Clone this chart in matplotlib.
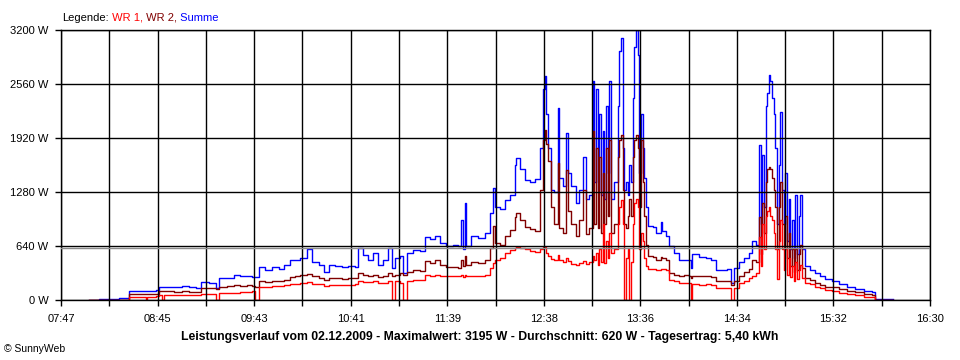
import matplotlib
matplotlib.use('Agg')
import matplotlib.pyplot as plt
import numpy as np
from matplotlib.ticker import FixedLocator, FuncFormatter

plt.rcParams['font.family'] = ['Liberation Sans', 'DejaVu Sans']

# Messzeitpunkte (HH:MM) und Leistung in W
times = [
    '08:04', '08:10', '08:16', '08:22', '08:26', '08:28', '08:34', '08:38', '08:39', '08:44',
    '08:46', '08:48', '08:49', '08:55', '09:00', '09:04', '09:08', '09:11', '09:16', '09:20',
    '09:22', '09:27', '09:31', '09:35', '09:39', '09:42', '09:44', '09:46', '09:50', '09:54',
    '09:58', '10:01', '10:05', '10:08', '10:11', '10:15', '10:18', '10:22', '10:25', '10:28',
    '10:32', '10:36', '10:40', '10:44', '10:46', '10:49', '10:52', '10:55', '10:58', '11:01',
    '11:04', '11:06', '11:08', '11:11', '11:13', '11:15', '11:19', '11:23', '11:26', '11:29',
    '11:32', '11:35', '11:39', '11:43', '11:46', '11:48', '11:49', '11:50', '11:51', '11:54',
    '11:58', '12:02', '12:05', '12:07', '12:08', '12:11', '12:14', '12:17', '12:20', '12:21',
    '12:23', '12:26', '12:29', '12:32', '12:35', '12:37', '12:38', '12:39', '12:40', '12:42',
    '12:44', '12:46', '12:47', '12:49', '12:51', '12:52', '12:54', '12:57', '12:59', '13:01',
    '13:03', '13:05', '13:07', '13:08', '13:09', '13:10', '13:11', '13:12', '13:13', '13:14',
    '13:15', '13:16', '13:17', '13:18', '13:20', '13:22', '13:23', '13:24', '13:25', '13:26',
    '13:27', '13:28', '13:29', '13:30', '13:31', '13:32', '13:33', '13:34', '13:35', '13:36',
    '13:37', '13:38', '13:39', '13:40', '13:43', '13:45', '13:48', '13:49', '13:51', '13:53',
    '13:56', '13:59', '14:02', '14:05', '14:06', '14:07', '14:11', '14:15', '14:18', '14:21',
    '14:25', '14:28', '14:30', '14:32', '14:35', '14:38', '14:41', '14:43', '14:45', '14:47',
    '14:48', '14:49', '14:50', '14:51', '14:52', '14:53', '14:54', '14:55', '14:56', '14:57',
    '14:58', '14:59', '15:00', '15:01', '15:02', '15:03', '15:04', '15:05', '15:06', '15:07',
    '15:08', '15:09', '15:10', '15:11', '15:12', '15:13', '15:15', '15:18', '15:21', '15:24',
    '15:27', '15:31', '15:35', '15:40', '15:45', '15:50', '15:55', '15:57', '16:08',
]

summe = [
    5, 10, 15, 20, 25, 110, 110, 112, 112, 115,
    160, 155, 150, 155, 165, 150, 145, 210, 205, 140,
    255, 265, 295, 280, 290, 275, 270, 395, 360, 390,
    370, 420, 480, 470, 500, 600, 450, 420, 330, 410,
    400, 390, 405, 395, 615, 530, 470, 560, 420, 480,
    620, 380, 500, 520, 320, 560, 590, 580, 750, 720,
    760, 680, 640, 650, 640, 950, 600, 1150, 640, 760,
    740, 800, 1030, 1330, 1100, 1080, 1180, 1250, 1600, 1680,
    1550, 1420, 1400, 1440, 1800, 2500, 2650, 2200, 1800, 1300,
    1280, 2275, 1450, 1350, 1975, 1500, 1350, 1150, 1300, 1700,
    1200, 1250, 2600, 1400, 2500, 1300, 2200, 1250, 2000, 1200,
    2300, 1500, 2600, 1200, 1400, 2300, 2950, 3100, 1800, 1300,
    1400, 1250, 1600, 1400, 2400, 3000, 3195, 2900, 1500, 2200,
    1800, 1450, 1100, 880, 860, 800, 930, 820, 760, 640,
    560, 480, 470, 480, 380, 540, 510, 500, 470, 360,
    355, 370, 200, 380, 450, 500, 560, 700, 650, 1835,
    900, 1720, 1100, 2300, 2450, 2670, 2600, 2400, 2200, 1800,
    900, 1600, 2230, 1300, 900, 1500, 700, 1200, 600, 950,
    500, 1245, 550, 1000, 1245, 600, 400, 360, 320, 290,
    250, 220, 190, 160, 130, 110, 95, 12, 10,
]

wr2 = [
    0, 0, 0, 0, 0, 70, 72, 70, 70, 75,
    110, 108, 105, 100, 105, 95, 100, 140, 138, 130,
    160, 165, 175, 165, 175, 165, 160, 225, 215, 230,
    220, 235, 270, 280, 300, 310, 280, 260, 240, 255,
    255, 250, 255, 260, 320, 300, 290, 300, 275, 290,
    320, 280, 300, 320, 300, 330, 350, 345, 460, 440,
    470, 420, 390, 390, 380, 480, 400, 520, 420, 450,
    440, 470, 620, 880, 680, 650, 760, 830, 980, 1030,
    950, 870, 840, 820, 1300, 1900, 2015, 1850, 1650, 1100,
    900, 1620, 850, 800, 1540, 1050, 900, 760, 950, 1300,
    780, 850, 2000, 900, 1800, 850, 1700, 800, 1500, 900,
    1800, 1000, 1900, 800, 900, 1700, 1900, 1950, 1300, 900,
    850, 1000, 1200, 1000, 1700, 1900, 1960, 1800, 1100, 1900,
    1400, 1000, 650, 520, 510, 480, 510, 500, 480, 320,
    300, 290, 295, 290, 260, 285, 280, 285, 270, 225,
    225, 230, 180, 230, 290, 330, 370, 470, 450, 985,
    550, 1150, 800, 1400, 1550, 1580, 1550, 1450, 1300, 1100,
    600, 1100, 1400, 900, 600, 1000, 500, 800, 400, 600,
    330, 600, 350, 550, 650, 380, 260, 240, 200, 180,
    160, 150, 130, 110, 100, 75, 65, 0, 0,
]

wr1 = [
    0, 0, 0, 0, 0, 38, 38, 0, 40, 45,
    55, 0, 55, 58, 60, 62, 65, 68, 70, 0,
    80, 82, 88, 90, 100, 105, 0, 160, 160, 170,
    165, 180, 190, 195, 200, 210, 195, 185, 170, 180,
    182, 180, 180, 185, 220, 215, 210, 220, 200, 205,
    230, 0, 225, 200, 0, 230, 237, 235, 300, 290,
    300, 280, 280, 285, 280, 300, 270, 300, 280, 290,
    285, 295, 380, 440, 480, 500, 560, 590, 620, 630,
    620, 600, 580, 570, 600, 630, 630, 560, 520, 490,
    480, 530, 470, 450, 500, 460, 430, 410, 440, 460,
    430, 450, 520, 480, 560, 420, 600, 450, 900, 440,
    700, 500, 800, 560, 600, 900, 1100, 1185, 900, 0,
    500, 600, 0, 450, 900, 1150, 1200, 1100, 600, 800,
    700, 500, 400, 370, 370, 360, 370, 370, 350, 240,
    220, 200, 200, 200, 0, 185, 180, 185, 175, 140,
    140, 145, 0, 145, 200, 230, 260, 290, 320, 750,
    400, 900, 600, 1000, 1050, 1100, 1000, 950, 800, 600,
    250, 700, 950, 600, 350, 600, 300, 500, 270, 400,
    230, 450, 250, 350, 420, 260, 200, 190, 160, 140,
    120, 110, 85, 70, 55, 40, 35, 0, 0,
]

durchschnitt = 620
y_ticks = [0, 640, 1280, 1920, 2560, 3200]


def to_min(s):
    h, m = s.split(':')
    return int(h) * 60 + int(m)


t = np.array([to_min(s) for s in times])

fig = plt.figure(figsize=(9.6, 3.6), dpi=100)
ax = fig.add_axes([61 / 960, 60 / 360, 869 / 960, 270 / 360])

ax.plot(t, summe, color='#0000ff', lw=1.0, drawstyle='steps-post')
ax.plot(t, wr2, color='#800000', lw=1.0, drawstyle='steps-post')
ax.plot(t, wr1, color='#ff0000', lw=1.0, drawstyle='steps-post')
ax.axhline(durchschnitt, color='#8c8c8c', lw=1, zorder=2.6)

# Zeitachse 07:47 - 16:30, 9 Abschnitte
t0, t1 = to_min('07:47'), to_min('16:30')
major = np.linspace(t0, t1, 10)
minor = (major[:-1] + major[1:]) / 2
ax.set_xlim(t0, t1)
ax.set_ylim(0, 3200)
ax.xaxis.set_major_locator(FixedLocator(major))
ax.xaxis.set_minor_locator(FixedLocator(minor))
ax.xaxis.set_major_formatter(FuncFormatter(lambda v, p: '%02d:%02d' % divmod(int(round(v)), 60)))
ax.yaxis.set_major_locator(FixedLocator(y_ticks))
ax.yaxis.set_major_formatter('{x:.0f} W')

ax.grid(True, which='both', color='black', lw=1)
ax.set_axisbelow(False)
ax.tick_params(which='both', direction='out', length=4, width=1, labelsize=8, color='black')
ax.tick_params(axis='x', pad=6)
ax.tick_params(axis='y', pad=5)
for sp in ax.spines.values():
    sp.set_linewidth(1)

# Legende oben links, mehrfarbig
txt = fig.text(62 / 960, 1 - 21 / 360, 'Legende:', fontsize=8, va='baseline')
for s, c in [(' WR 1,', '#ff0000'), (' WR 2,', '#800000'), (' Summe', '#0000ff')]:
    txt = ax.annotate(s, xy=(1, 0), xycoords=txt, va='bottom', ha='left',
                      fontsize=8, color=c, annotation_clip=False)

fig.text(0.5, 1 - 337 / 360,
         'Leistungsverlauf vom 02.12.2009 - Maximalwert: 3195 W - Durchschnitt: 620 W - Tagesertrag: 5,40 kWh',
         ha='center', va='center', fontsize=8.8, fontweight='bold')
fig.text(4 / 960, 1 - 349 / 360, '© SunnyWeb', fontsize=7.5, va='center')

fig.savefig('out.png', dpi=100)
